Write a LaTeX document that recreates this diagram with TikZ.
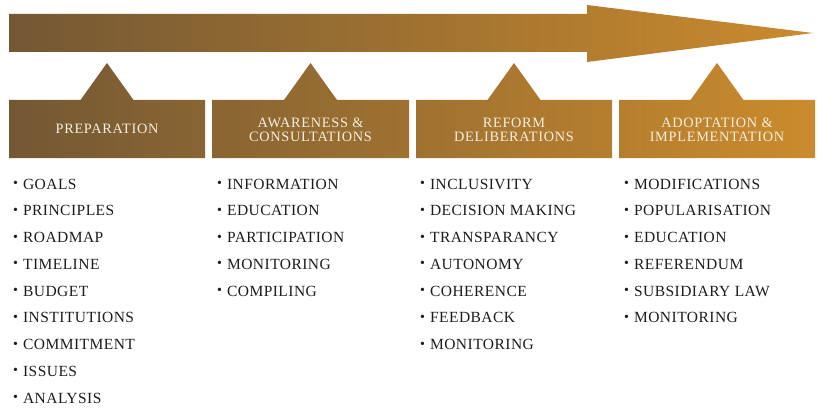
\documentclass[tikz,border=0pt]{standalone}
\usepackage{graphicx}
\usepackage{fontspec}
\setmainfont{Liberation Serif}
\newfontfamily\headfont[LetterSpace=5]{Liberation Serif}
\newfontfamily\listfont[LetterSpace=3]{Liberation Serif}
\definecolor{gradL}{RGB}{115,88,52}
\definecolor{gradR}{RGB}{203,139,45}
\definecolor{headtext}{RGB}{246,238,224}
\definecolor{listtext}{RGB}{30,27,28}
\newcommand{\itembul}{\raisebox{1.5pt}{\scalebox{0.9}{\textbullet}}\hspace{5pt}}
\tikzset{
  headlabel/.style={align=center,text=headtext,inner sep=0pt,
    font=\headfont\fontsize{14.3}{14.5}\selectfont},
  listitem/.style={anchor=west,text=listtext,inner sep=0pt,
    font=\listfont\fontsize{15.5}{16}\selectfont},
}
\begin{document}
\begin{tikzpicture}[x=1pt,y=-1pt]
\useasboundingbox (0,0) rectangle (818,409);
\begin{scope}
\clip (9,14) -- (587,14) -- (587,5) -- (813,33) -- (587,62) -- (587,52) -- (9,52) -- cycle
  (9,100) -- (80.5,100) -- (107,63) -- (133.5,100) -- (205,100) -- (205,158) -- (9,158) -- cycle
  (212,100) -- (284,100) -- (310.5,63) -- (337,100) -- (409,100) -- (409,158) -- (212,158) -- cycle
  (416,100) -- (487.5,100) -- (514,63) -- (540.5,100) -- (612,100) -- (612,158) -- (416,158) -- cycle
  (619,100) -- (690.5,100) -- (717,63) -- (743.5,100) -- (815,100) -- (815,158) -- (619,158) -- cycle;
\shade[left color=gradL, right color=gradR] (9,0) rectangle (815,170);
\end{scope}
\node[headlabel] (h1) at (107,129) {PREPARATION};
\node[headlabel] (h2) at (310.5,130) {AWARENESS \&\\CONSULTATIONS};
\node[headlabel] (h3) at (514,130) {REFORM\\DELIBERATIONS};
\node[headlabel] (h4) at (717,130) {ADOPTATION \&\\IMPLEMENTATION};
\foreach \t [count=\i] in {GOALS,PRINCIPLES,ROADMAP,TIMELINE,BUDGET,INSTITUTIONS,COMMITMENT,ISSUES,ANALYSIS}
  \node[listitem] (a\i) at (13,184+26.75*\i-26.75) {\itembul\t};
\foreach \t [count=\i] in {INFORMATION,EDUCATION,PARTICIPATION,MONITORING,COMPILING}
  \node[listitem] (b\i) at (217,184+26.75*\i-26.75) {\itembul\t};
\foreach \t [count=\i] in {INCLUSIVITY,DECISION MAKING,TRANSPARANCY,AUTONOMY,COHERENCE,FEEDBACK,MONITORING}
  \node[listitem] (c\i) at (420,184+26.75*\i-26.75) {\itembul\t};
\foreach \t [count=\i] in {MODIFICATIONS,POPULARISATION,EDUCATION,REFERENDUM,SUBSIDIARY LAW,MONITORING}
  \node[listitem] (d\i) at (624,184+26.75*\i-26.75) {\itembul\t};
\end{tikzpicture}
\end{document}
